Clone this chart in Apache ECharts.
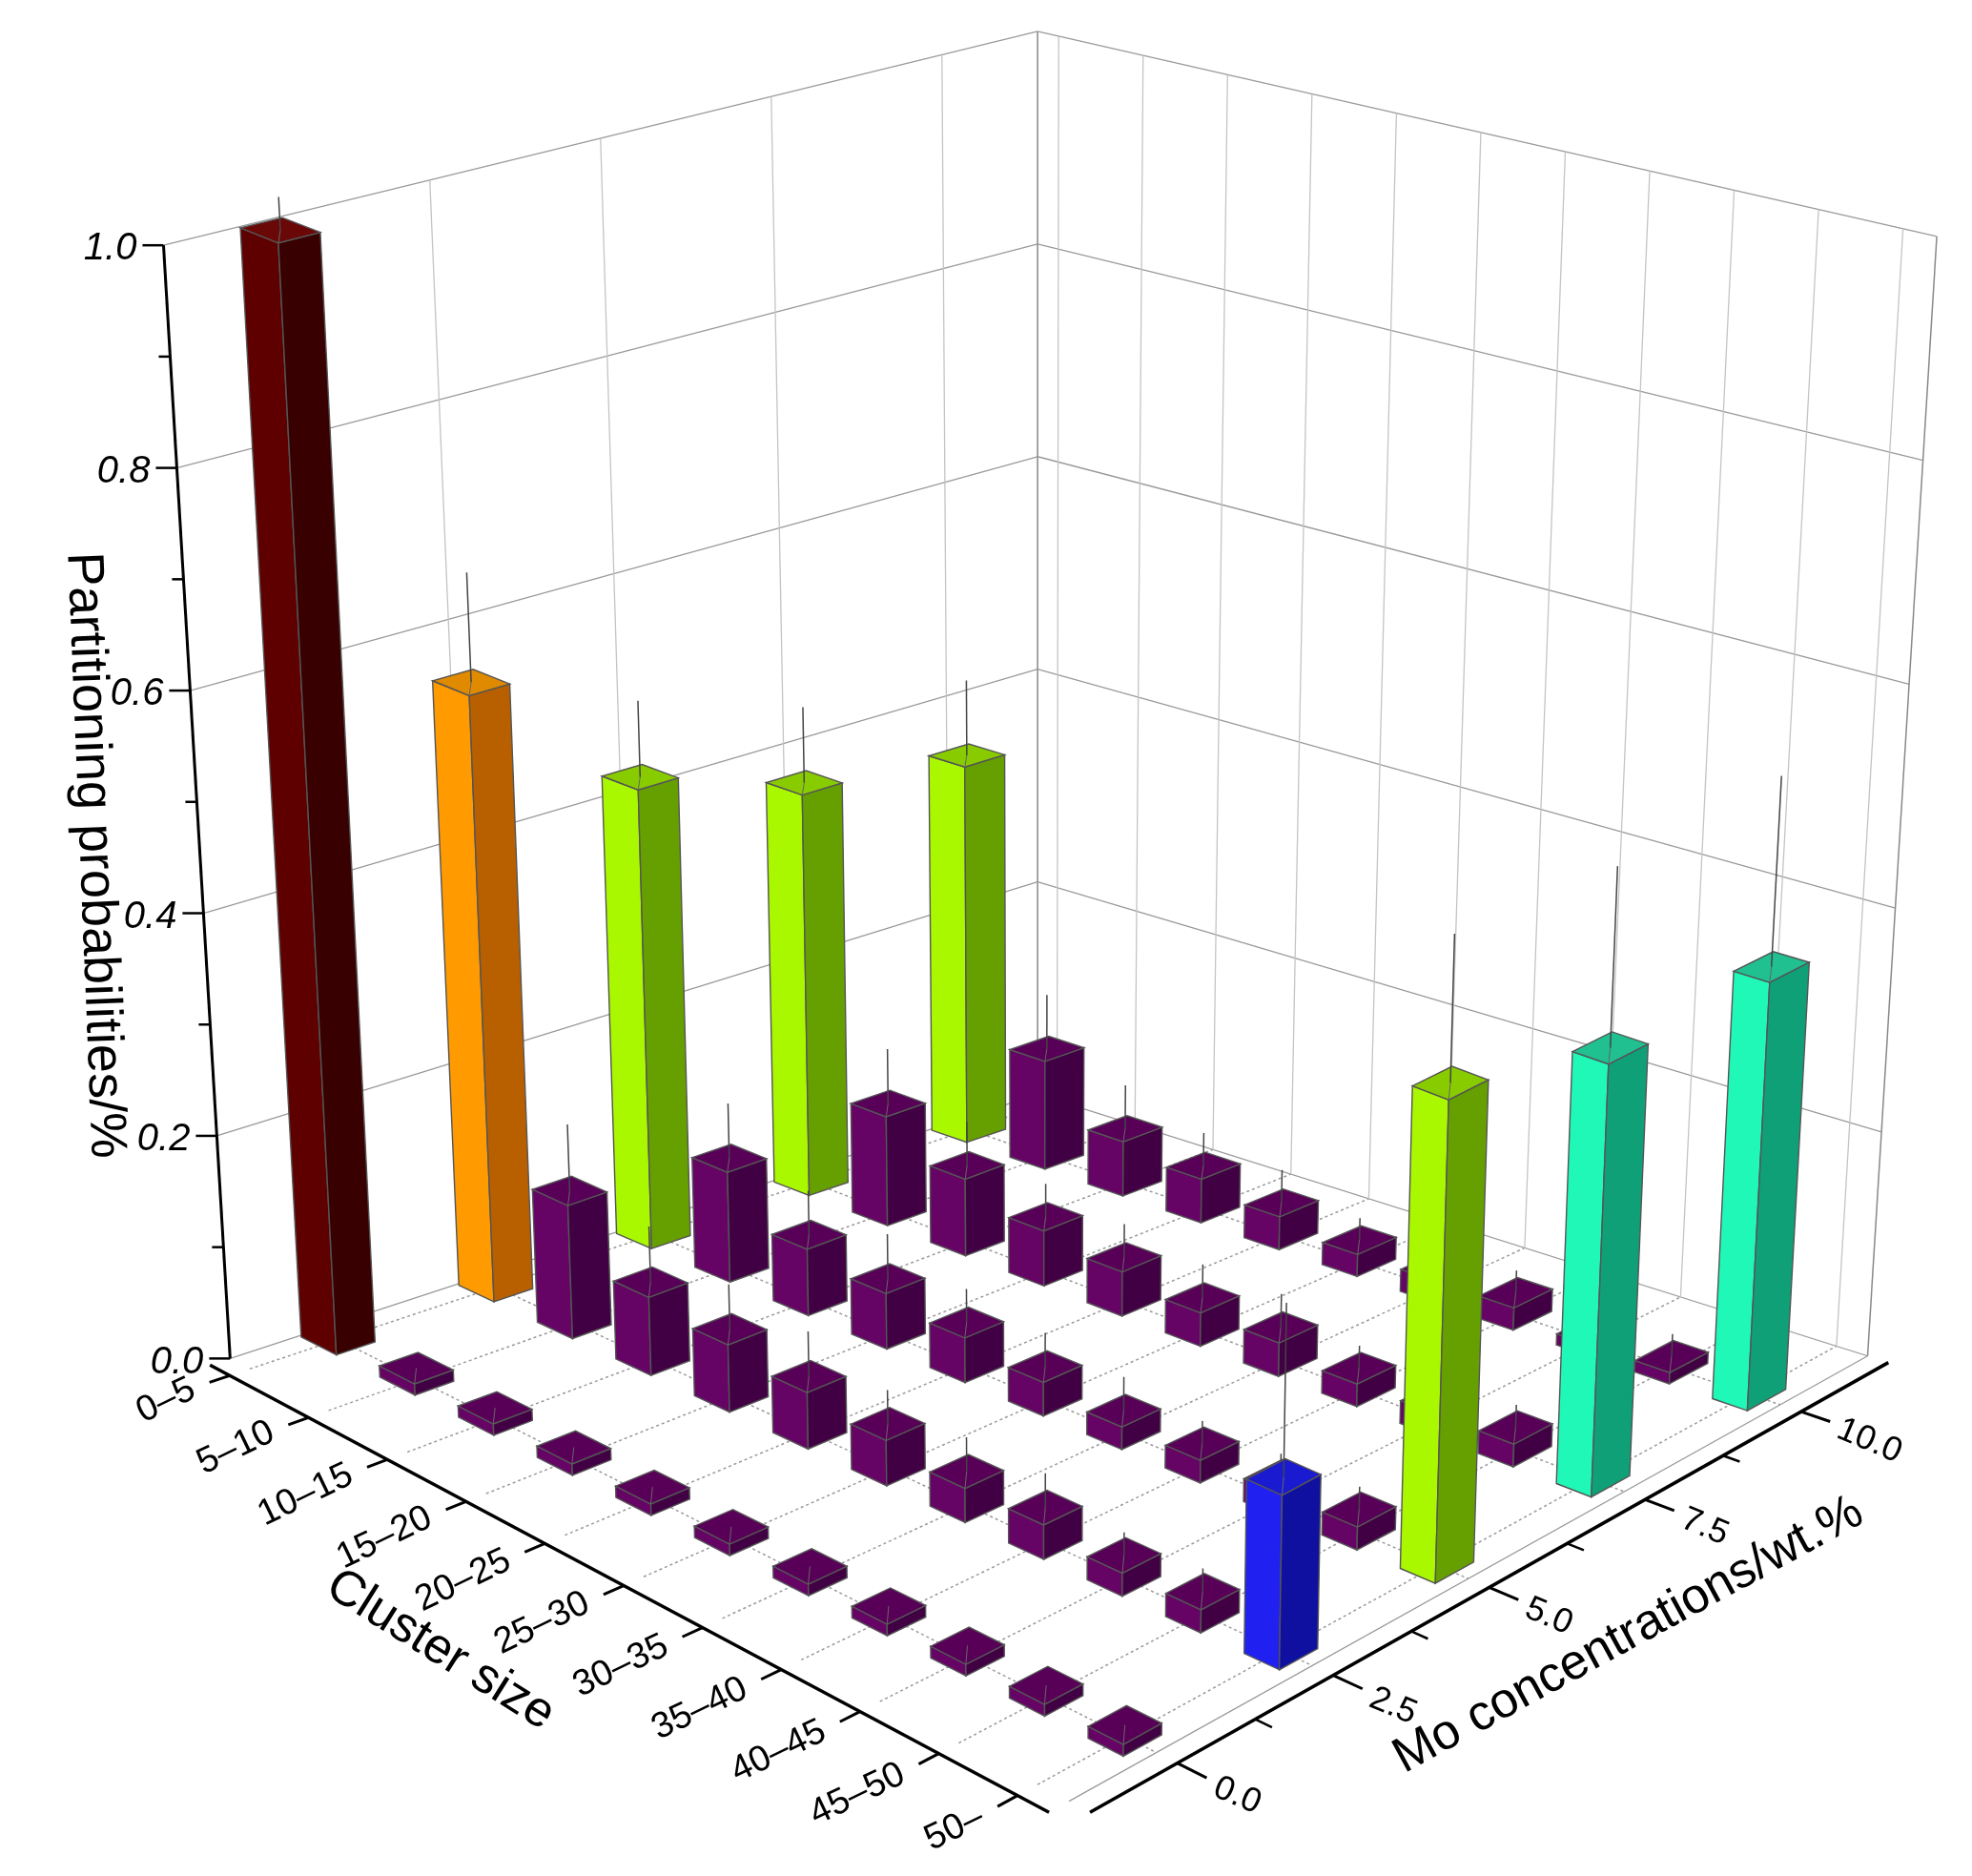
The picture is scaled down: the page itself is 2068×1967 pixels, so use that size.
<!DOCTYPE html>
<html><head><meta charset="utf-8">
<script src="https://cdn.jsdelivr.net/npm/echarts@6/dist/echarts.min.js"></script>
<style>html,body{margin:0;background:#fff}#c{width:2068px;height:1967px}</style>
</head><body><div id="c"></div>
<script>
const clusters=['0–5','5–10','10–15','15–20','20–25','25–30','30–35','35–40','40–45','45–50','50–'];
const moConc=[0.0,2.5,5.0,7.5,10.0];
const moLabels=['0.0','2.5','5.0','7.5','10.0'];
const zTicks=[0.0,0.2,0.4,0.6,0.8,1.0];
const row0=[1.00,0.01,0.01,0.01,0.01,0.01,0.01,0.01,0.01,0.01,0.01];
const row25=[0.55,0.12,0.07,0.06,0.05,0.04,0.03,0.03,0.02,0.02,0.15];
const row50=[0.42,0.10,0.06,0.05,0.04,0.03,0.02,0.02,0.02,0.02,0.42];
const row75=[0.37,0.10,0.07,0.05,0.04,0.03,0.03,0.02,0.02,0.02,0.38];
const row100=[0.35,0.10,0.05,0.04,0.03,0.02,0.02,0.02,0.01,0.01,0.38];
const err0=[0.03,0,0,0,0,0,0,0,0,0,0];
const err25=[0.10,0.06,0.05,0.04,0.04,0.03,0.03,0.03,0.02,0.02,0.15];
const err50=[0.07,0.05,0.04,0.04,0.03,0.03,0.03,0.02,0.02,0.02,0.13];
const err75=[0.07,0.05,0.04,0.03,0.03,0.03,0.03,0.02,0.02,0.02,0.16];
const err100=[0.07,0.05,0.04,0.03,0.03,0.02,0.02,0.02,0.02,0.02,0.17];
const rows=[row0,row25,row50,row75,row100];
const errs=[err0,err25,err50,err75,err100];

const palette={red:['#6a0808','#5e0000','#380000'],orange:['#e08a00','#ff9a00','#b86000'],
 green:['#88cc00','#aaf800','#66a000'],teal:['#20c090','#20f8b8','#10a078'],
 purple:['#580058','#660466','#420044'],blue:['#1a1ad0','#2020f0','#1010a0']};
function colorKey(r,c,v){
  if(v>=0.9) return 'red';
  if(r===1&&c===0) return 'orange';
  if(r===1&&c===10) return 'blue';
  if(c===10&&r>=3) return 'teal';
  if(v>=0.3) return 'green';
  return 'purple';
}
const S=2068/1568;
const CR={A:{x:183,y:1080,H:885,dx:-53},F:{x:850,y:1432,H:940,dx:0},R:{x:1485,y:1078,H:890,dx:55},B:{x:825,y:870,H:845,dx:0}};
function P(u,v,h){
  const w=[(1-u)*(1-v),u*(1-v),u*v,(1-u)*v];const cs=[CR.A,CR.F,CR.R,CR.B];
  let x=0,y=0,H=0,dx=0;
  cs.forEach((c,i)=>{x+=c.x*w[i];y+=c.y*w[i];H+=c.H*w[i];dx+=c.dx*w[i];});
  return [(x+dx*h)*S,(y-H*h)*S];
}
const uOf=i=>(i+0.25)/10.65;
const vOf=m=>(m+1.4)/12.8;
const du=0.021,dv=0.024;

const bars=[];
rows.forEach((row,r)=>row.forEach((val,c)=>bars.push([c,moConc[r],val,errs[r][c],r])));
bars.sort((a,b)=>(uOf(a[0])-vOf(a[1]))-(uOf(b[0])-vOf(b[1])));

const chart=echarts.init(document.getElementById('c'));
function poly(api,pts,fill,stroke){
  return {type:'polygon',shape:{points:pts.map(p=>api.coord(P(p[0],p[1],p[2])))},style:{fill:fill,stroke:stroke||'#555',lineWidth:1.4}};
}
function line(api,a,b,col,w,dash){
  const p=api.coord(P(a[0],a[1],a[2])),q=api.coord(P(b[0],b[1],b[2]));
  return {type:'line',shape:{x1:p[0],y1:p[1],x2:q[0],y2:q[1]},style:{stroke:col,lineWidth:w,lineDash:dash||null}};
}
const FONT='"Liberation Sans",Arial,sans-serif';
function txt(api,pt,s,size,align,va,rot){
  const p=api.coord(P(pt[0],pt[1],pt[2]));
  return {type:'text',x:p[0],y:p[1],rotation:rot||0,style:{text:s,fill:'#000',font:size+'px '+FONT,textAlign:align,textVerticalAlign:va,align:align,verticalAlign:va}};
}
function renderFrame(params,api){
  const ch=[];const g='#9a9a9a';const gw='#c4c4c4';const d=[3,3];
  moConc.forEach(m=>ch.push(line(api,[0,vOf(m),0],[1,vOf(m),0],g,1.5,d)));
  clusters.forEach((c,i)=>ch.push(line(api,[uOf(i),0,0],[uOf(i),1,0],g,1.5,d)));
  zTicks.forEach(z=>ch.push(line(api,[0,0,z],[0,1,z],g,1.3)));
  moConc.forEach(m=>ch.push(line(api,[0,vOf(m),0],[0,vOf(m),1],gw,1.3)));
  ch.push(line(api,[0,1,0],[0,1,1],'#888',1.5));
  zTicks.forEach(z=>ch.push(line(api,[0,1,z],[1,1,z],g,1.3)));
  clusters.forEach((c,i)=>ch.push(line(api,[uOf(i),1,0],[uOf(i),1,1],gw,1.3)));
  ch.push(line(api,[1,1,0],[1,1,1],'#888',1.5));
  ch.push(line(api,[1,0,0],[1,1,0],'#999',1.2));
  ch.push(line(api,[0,0,0],[0,0,1],'#000',3));
  for(let k=0;k<=10;k++){const z=k/10;const major=k%2===0;
    const p=api.coord(P(0,0,z));
    ch.push({type:'line',shape:{x1:p[0],y1:p[1],x2:p[0]-(major?22:12),y2:p[1]},style:{stroke:'#000',lineWidth:2.5}});
    if(major){ch.push({type:'text',x:p[0]-28,y:p[1]+4,style:{text:z.toFixed(1),fill:'#000',font:'italic 40px '+FONT,textAlign:'right',textVerticalAlign:'middle',align:'right',verticalAlign:'middle'}});}
  }
  ch.push(line(api,[0,-0.025,0],[1,-0.025,0],'#000',3.5));
  clusters.forEach((c,i)=>{ch.push(line(api,[uOf(i),-0.025,0],[uOf(i),-0.05,0],'#000',3));
    ch.push(txt(api,[uOf(i),-0.07,0],c,38,'right','middle',0.45));});
  ch.push(line(api,[1.025,0,0],[1.025,1,0],'#000',3.5));
  moConc.forEach((m,i)=>{ch.push(line(api,[1.025,vOf(m),0],[1.06,vOf(m),0],'#000',3));
    if(i<4) ch.push(line(api,[1.025,(vOf(m)+vOf(moConc[i+1]))/2,0],[1.045,(vOf(m)+vOf(moConc[i+1]))/2,0],'#000',2.5));
    ch.push(txt(api,[1.075,vOf(m)-0.005,0],moLabels[i],36,'left','middle',-0.4));});
  const t1=api.coord([75*S,680*S]);
  ch.push({type:'text',x:t1[0],y:t1[1],rotation:-Math.PI/2+0.04,style:{text:'Partitioning probabilities/%',fill:'#000',font:'54px '+FONT,textAlign:'center',textVerticalAlign:'middle',align:'center',verticalAlign:'middle'}});
  const t2=api.coord([350*S,1312*S]);
  ch.push({type:'text',x:t2[0],y:t2[1],rotation:-0.56,style:{text:'Cluster size',fill:'#000',font:'52px '+FONT,textAlign:'center',textVerticalAlign:'middle',align:'center',verticalAlign:'middle'}});
  const t3=api.coord([1295*S,1300*S]);
  ch.push({type:'text',x:t3[0],y:t3[1],rotation:0.5,style:{text:'Mo concentrations/wt.%',fill:'#000',font:'52px '+FONT,textAlign:'center',textVerticalAlign:'middle',align:'center',verticalAlign:'middle'}});
  return {type:'group',children:ch};
}
function renderBar(params,api){
  const c=api.value(0),m=api.value(1),h=api.value(2),e=api.value(3),r=api.value(4);
  const u=uOf(c),v=vOf(m);const u0=u-du,u1=u+du,v0=v-dv,v1=v+dv;
  const col=palette[colorKey(r,c,h)];
  const ch=[];
  if(e>0) ch.push(line(api,[u,v,Math.max(0,h-e)],[u,v,h],'#444',1.5));
  ch.push(poly(api,[[u0,v0,0],[u1,v0,0],[u1,v0,h],[u0,v0,h]],col[1]));
  ch.push(poly(api,[[u1,v0,0],[u1,v1,0],[u1,v1,h],[u1,v0,h]],col[2]));
  ch.push(poly(api,[[u0,v0,h],[u1,v0,h],[u1,v1,h],[u0,v1,h]],col[0]));
  ch.push(line(api,[u,v,h],[u,v,h+e],'#444',1.5));
  ch.push(line(api,[u1,v0,h],[u,v,h],'#666',1));
  return {type:'group',children:ch};
}
chart.setOption({
  animation:false,
  grid:{left:0,right:0,top:0,bottom:0},
  xAxis:{type:'value',min:0,max:2068,show:false},
  yAxis:{type:'value',min:0,max:1967,inverse:true,show:false},
  series:[
    {type:'custom',renderItem:renderFrame,data:[[0]],silent:true,clip:false},
    {type:'custom',renderItem:renderBar,data:bars,clip:false}
  ]
});
</script></body></html>
